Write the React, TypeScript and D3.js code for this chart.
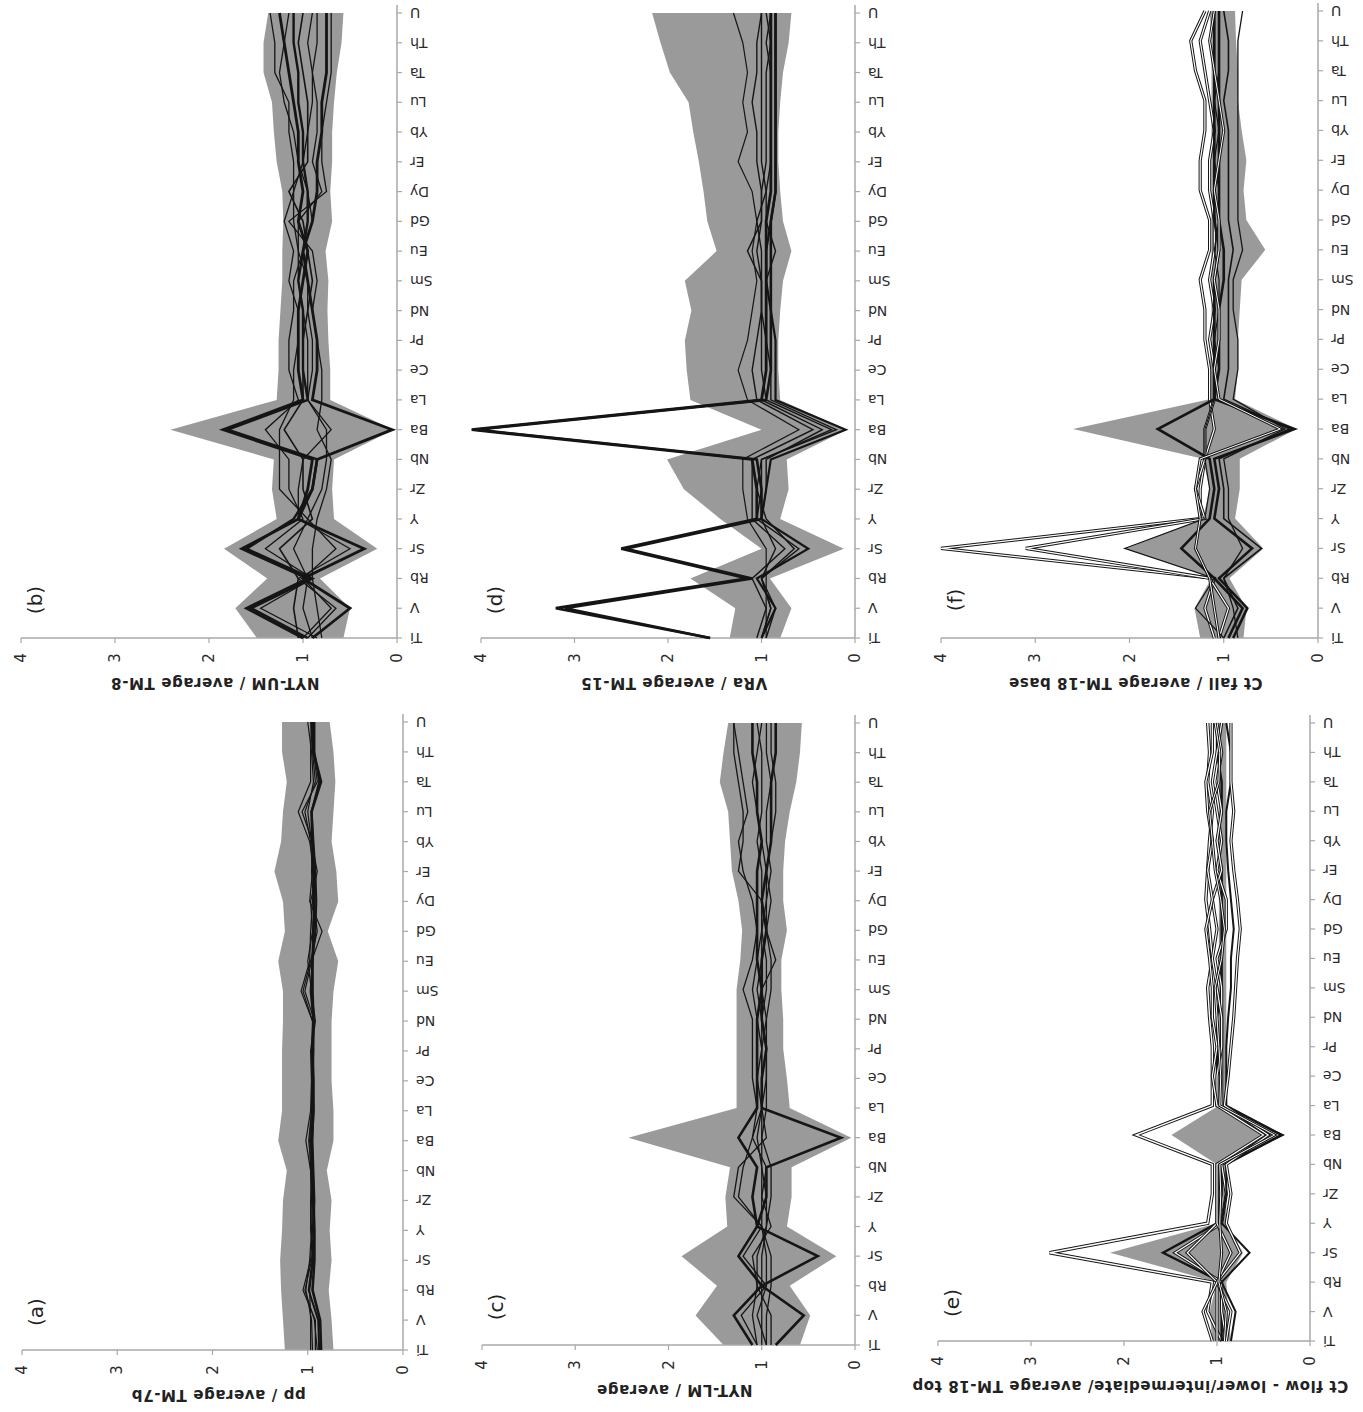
import React from "react";
import * as d3 from "d3";

// element order along the category axis
const ELEMENTS = ["Ti", "V", "Rb", "Sr", "Y", "Zr", "Nb", "Ba", "La", "Ce", "Pr", "Nd", "Sm", "Eu", "Gd", "Dy", "Er", "Yb", "Lu", "Ta", "Th", "U"];
const VALUE_TICKS = [0, 1, 2, 3, 4];

// (a) pp
const A_TITLE = "pp / average TM-7b";
const A_MAX = [1.24, 1.26, 1.28, 1.29, 1.27, 1.26, 1.22, 1.31, 1.27, 1.27, 1.27, 1.26, 1.26, 1.31, 1.24, 1.26, 1.35, 1.28, 1.26, 1.22, 1.27, 1.27];
const A_MIN = [0.73, 0.75, 0.78, 0.75, 0.77, 0.75, 0.8, 0.73, 0.73, 0.75, 0.75, 0.75, 0.73, 0.68, 0.79, 0.68, 0.7, 0.75, 0.73, 0.71, 0.73, 0.77];
const A_LINES = [
  [0.86, 0.87, 0.95, 0.93, 0.93, 0.94, 0.95, 0.96, 0.94, 0.94, 0.95, 0.94, 0.95, 0.95, 0.94, 0.93, 0.94, 0.95, 0.96, 0.86, 0.94, 0.95],
  [0.92, 0.92, 1.05, 0.97, 0.95, 0.96, 0.97, 1.02, 0.97, 0.96, 0.96, 0.95, 1.07, 0.98, 0.97, 0.95, 0.93, 0.98, 1.1, 0.97, 0.97, 0.96],
  [0.95, 0.96, 1.02, 0.98, 0.96, 0.95, 0.97, 0.98, 0.96, 0.96, 0.97, 0.93, 1.03, 0.96, 0.85, 0.98, 0.95, 0.97, 1.03, 0.92, 0.95, 0.97],
  [0.88, 0.89, 0.99, 0.95, 0.94, 0.93, 0.94, 0.95, 0.94, 0.95, 0.94, 0.94, 0.97, 0.95, 0.92, 0.91, 0.92, 0.94, 0.96, 0.88, 0.93, 0.93],
  [0.97, 0.97, 0.98, 0.94, 0.97, 0.97, 0.96, 0.99, 0.96, 0.96, 0.96, 0.92, 0.96, 1.0, 0.95, 0.97, 0.9, 0.96, 1.0, 0.94, 0.96, 1.0],
  [0.9, 0.93, 1.03, 0.96, 0.93, 0.94, 0.95, 0.97, 0.95, 0.95, 0.94, 0.95, 1.05, 0.97, 0.9, 0.94, 0.96, 0.95, 1.06, 0.9, 0.94, 0.94],
];

// (b) NYT-UM
const B_TITLE = "NYT-UM / average TM-8";
const B_MAX = [1.49, 1.72, 1.38, 1.84, 1.28, 1.33, 1.31, 2.41, 1.28, 1.26, 1.26, 1.24, 1.22, 1.22, 1.21, 1.22, 1.28, 1.31, 1.33, 1.42, 1.42, 1.37];
const B_MIN = [0.57, 0.5, 0.82, 0.21, 0.67, 0.69, 0.67, 0.04, 0.71, 0.71, 0.73, 0.74, 0.73, 0.76, 0.69, 0.71, 0.69, 0.69, 0.67, 0.64, 0.59, 0.57];
const B_LINES = [
  [1.0, 1.6, 0.95, 1.65, 1.05, 0.95, 0.9, 1.85, 1.0, 1.05, 1.05, 1.05, 1.0, 0.95, 1.05, 1.0, 1.05, 1.05, 1.1, 1.15, 1.2, 1.25],
  [0.9, 0.5, 1.0, 0.35, 1.05, 0.9, 0.85, 0.05, 0.9, 0.85, 0.85, 0.9, 0.95, 1.0, 0.9, 0.85, 0.85, 0.8, 0.8, 0.75, 0.75, 0.75],
  [0.95, 1.55, 0.9, 1.6, 1.1, 0.9, 0.85, 1.8, 0.95, 1.0, 1.0, 1.0, 1.05, 1.0, 0.95, 0.95, 1.0, 1.0, 1.05, 1.05, 1.1, 1.1],
  [0.95, 0.65, 1.05, 0.5, 1.05, 1.05, 1.0, 0.7, 0.95, 0.95, 0.95, 1.0, 1.05, 1.05, 1.1, 1.1, 1.0, 0.95, 0.9, 0.9, 0.85, 0.85],
  [0.85, 1.45, 0.9, 1.4, 1.0, 1.15, 1.15, 1.4, 1.05, 1.15, 1.15, 1.1, 1.1, 1.0, 0.9, 0.95, 1.05, 1.1, 1.2, 1.25, 1.2, 1.15],
  [1.0, 0.7, 1.0, 0.65, 0.95, 0.8, 0.75, 0.75, 0.95, 0.9, 0.9, 0.95, 0.95, 1.05, 1.05, 0.8, 0.9, 0.85, 0.85, 0.9, 0.95, 0.9],
  [0.9, 1.0, 0.95, 1.1, 0.95, 1.25, 1.25, 1.25, 1.1, 1.1, 1.05, 1.05, 1.15, 1.1, 1.2, 1.1, 1.1, 1.15, 1.15, 1.3, 1.3, 1.35],
  [0.8, 0.85, 0.9, 0.9, 0.85, 0.75, 0.7, 0.85, 0.8, 0.8, 0.85, 0.9, 0.85, 0.9, 1.15, 0.75, 0.8, 0.8, 0.75, 0.7, 0.7, 0.7],
  [1.05, 1.1, 1.05, 1.25, 0.9, 1.0, 1.0, 1.2, 1.0, 1.0, 1.0, 0.95, 0.9, 0.95, 1.0, 1.15, 0.95, 0.95, 0.95, 1.0, 1.05, 1.0],
];

// (c) NYT-LM
const C_TITLE = "NYT-LM / average";
const C_MAX = [1.41, 1.71, 1.48, 1.86, 1.37, 1.39, 1.34, 2.43, 1.27, 1.27, 1.27, 1.27, 1.27, 1.23, 1.21, 1.25, 1.32, 1.34, 1.36, 1.45, 1.41, 1.36];
const C_MIN = [0.59, 0.48, 0.7, 0.2, 0.73, 0.68, 0.68, 0.04, 0.7, 0.73, 0.77, 0.77, 0.79, 0.79, 0.73, 0.77, 0.77, 0.75, 0.7, 0.63, 0.59, 0.57];
const C_LINES = [
  [0.85, 0.55, 1.0, 0.4, 1.05, 0.95, 0.95, 0.15, 1.0, 1.0, 0.95, 1.0, 1.0, 1.0, 0.95, 1.0, 0.95, 0.9, 0.9, 0.9, 0.85, 0.85],
  [1.1, 1.3, 1.0, 1.25, 1.05, 1.1, 1.05, 1.25, 1.05, 1.05, 1.05, 1.05, 1.0, 1.05, 1.05, 1.05, 1.05, 1.0, 1.05, 1.05, 1.1, 1.1],
  [1.05, 1.22, 0.95, 1.2, 1.0, 1.25, 1.2, 1.1, 1.05, 1.1, 1.1, 1.1, 1.2, 1.1, 1.05, 1.1, 1.2, 1.25, 1.15, 1.2, 1.25, 1.3],
  [0.95, 0.95, 0.9, 0.9, 1.0, 1.3, 1.25, 0.95, 1.0, 1.0, 1.0, 0.95, 1.0, 0.85, 0.95, 0.95, 0.95, 1.0, 1.05, 1.1, 1.05, 1.0],
  [0.9, 0.9, 1.05, 1.05, 0.95, 0.9, 0.9, 1.0, 0.95, 0.95, 0.95, 1.0, 0.95, 0.95, 1.0, 0.95, 0.9, 0.95, 0.95, 0.9, 0.95, 0.95],
  [1.0, 1.0, 1.0, 1.0, 0.95, 0.95, 1.0, 1.05, 1.0, 1.0, 1.0, 1.0, 1.05, 1.0, 1.0, 1.0, 1.0, 1.05, 1.0, 1.0, 1.0, 1.05],
  [0.95, 1.05, 0.95, 0.95, 1.0, 1.0, 0.95, 1.1, 1.0, 1.05, 1.0, 1.05, 1.1, 1.05, 1.0, 1.0, 1.25, 1.2, 1.2, 1.25, 1.3, 1.3],
  [1.05, 1.1, 1.05, 1.1, 0.9, 1.0, 1.0, 1.0, 1.0, 0.95, 0.95, 0.95, 0.9, 0.9, 0.95, 0.9, 0.95, 0.9, 0.85, 0.85, 0.9, 0.9],
];

// (d) VRa
const D_TITLE = "VRa / average TM-15";
const D_MAX = [1.34, 1.28, 1.76, 1.0, 1.44, 1.83, 2.01, 1.0, 1.76, 1.8, 1.82, 1.75, 1.82, 1.48, 1.58, 1.62, 1.67, 1.73, 1.78, 1.98, 2.08, 2.17];
const D_MIN = [0.8, 0.68, 0.91, 0.12, 0.8, 0.71, 0.73, 0.09, 0.8, 0.82, 0.82, 0.8, 0.77, 0.68, 0.77, 0.8, 0.82, 0.82, 0.8, 0.77, 0.71, 0.68];
const D_LINES = [
  [1.55, 3.2, 1.15, 2.5, 1.05, 1.05, 1.1, 4.1, 1.0, 0.95, 0.95, 0.95, 0.95, 0.95, 0.95, 0.9, 0.9, 0.9, 0.9, 0.9, 0.9, 0.9],
  [1.55, 3.1, 1.1, 2.45, 1.0, 1.0, 1.05, 4.05, 0.95, 0.9, 0.9, 0.9, 0.9, 0.9, 0.9, 0.85, 0.85, 0.85, 0.85, 0.85, 0.85, 0.85],
  [1.0, 0.85, 1.05, 0.5, 1.0, 0.95, 0.9, 0.1, 0.85, 0.85, 0.85, 0.9, 0.95, 0.95, 0.9, 0.85, 0.85, 0.85, 0.85, 0.85, 0.85, 0.85],
  [1.0, 0.9, 1.0, 0.6, 1.05, 1.0, 1.0, 0.25, 0.95, 1.0, 1.0, 1.0, 1.0, 1.05, 1.0, 1.0, 0.95, 0.95, 0.95, 0.95, 0.9, 0.95],
  [1.05, 0.95, 1.1, 0.75, 1.1, 1.1, 1.1, 0.45, 1.05, 1.1, 1.05, 1.0, 1.0, 1.15, 1.0, 1.0, 1.05, 1.05, 1.1, 1.05, 1.05, 1.0],
  [0.95, 0.95, 0.95, 0.95, 1.15, 1.2, 1.2, 0.6, 1.15, 1.25, 1.15, 1.1, 1.05, 1.1, 1.05, 1.1, 1.25, 1.15, 1.2, 1.15, 1.2, 1.3],
  [1.0, 0.9, 1.0, 0.85, 1.0, 0.95, 0.95, 0.35, 1.0, 0.95, 0.95, 0.95, 0.95, 0.85, 0.95, 0.95, 1.0, 1.0, 1.0, 1.0, 1.0, 1.0],
  [0.95, 0.85, 1.0, 0.65, 0.95, 1.05, 1.0, 0.2, 0.9, 0.9, 0.95, 1.0, 1.0, 1.0, 1.05, 0.95, 0.9, 0.9, 0.9, 0.9, 0.95, 0.9],
];

// (e) Ct flow
const E_TITLE = "Ct flow - lower/intermediate/ average TM-18 top";
const E_MAX = [1.05, 1.08, 1.0, 2.15, 1.0, 1.0, 1.0, 1.49, 0.98, 0.98, 0.98, 0.98, 0.98, 0.98, 0.98, 0.98, 0.98, 0.98, 0.98, 0.98, 0.98, 0.98];
const E_MIN = [0.85, 0.88, 0.9, 0.72, 0.9, 0.9, 0.9, 0.32, 0.9, 0.9, 0.9, 0.9, 0.9, 0.9, 0.9, 0.9, 0.9, 0.9, 0.9, 0.9, 0.9, 0.9];
const E_LINES = [
  [0.95, 1.1, 1.05, 2.8, 1.1, 1.05, 1.05, 1.87, 1.05, 1.05, 1.05, 1.08, 1.1, 1.05, 1.08, 1.12, 1.1, 1.08, 1.05, 1.1, 1.08, 1.1],
  [0.95, 0.95, 0.95, 1.58, 1.0, 0.95, 0.95, 0.3, 1.0, 1.0, 1.0, 1.0, 0.95, 0.95, 0.95, 0.95, 0.95, 1.0, 0.95, 0.95, 1.0, 1.0],
  [0.9, 0.95, 0.95, 1.45, 0.95, 0.9, 0.95, 0.35, 0.95, 0.95, 0.95, 0.95, 0.95, 1.0, 0.9, 0.9, 1.0, 0.95, 1.0, 1.05, 1.0, 0.95],
  [1.0, 1.0, 1.0, 1.32, 1.0, 1.0, 1.0, 0.4, 1.0, 1.0, 0.95, 0.95, 1.0, 1.05, 1.0, 1.05, 0.95, 1.0, 0.95, 1.0, 0.95, 1.0],
  [0.85, 0.8, 0.95, 0.65, 0.95, 0.9, 0.9, 0.3, 0.9, 0.9, 0.9, 0.88, 0.85, 0.85, 0.82, 0.85, 0.88, 0.9, 0.9, 0.85, 0.85, 0.9],
  [0.9, 0.85, 1.0, 0.75, 0.9, 0.85, 0.9, 0.45, 0.92, 0.88, 0.85, 0.82, 0.8, 0.78, 0.75, 0.78, 0.82, 0.85, 0.82, 0.85, 0.85, 0.85],
  [1.05, 1.15, 1.0, 0.85, 1.0, 1.0, 1.0, 0.5, 1.0, 1.05, 1.0, 1.05, 1.05, 1.08, 1.12, 1.05, 1.1, 1.05, 1.1, 1.12, 1.05, 1.05],
  [0.92, 0.9, 0.98, 0.95, 0.97, 0.96, 0.97, 0.38, 0.97, 0.96, 0.98, 1.0, 1.02, 0.95, 0.92, 0.96, 1.02, 1.05, 1.08, 0.98, 0.97, 1.02],
];

// (f) Ct fall
const F_TITLE = "Ct fall / average TM-18 base";
const F_MAX = [1.25, 1.31, 1.13, 2.03, 1.22, 1.15, 1.22, 2.6, 1.15, 1.15, 1.13, 1.13, 1.13, 1.13, 1.13, 1.13, 1.13, 1.13, 1.13, 1.13, 1.13, 1.15];
const F_MIN = [0.79, 0.76, 0.94, 0.58, 0.88, 0.83, 0.83, 0.23, 0.88, 0.85, 0.85, 0.83, 0.81, 0.56, 0.76, 0.79, 0.76, 0.81, 0.85, 0.85, 0.87, 0.88];
const F_LINES = [
  [1.1, 1.2, 1.1, 4.0, 1.25, 1.25, 1.2, 1.1, 1.15, 1.15, 1.2, 1.2, 1.25, 1.15, 1.15, 1.25, 1.25, 1.2, 1.2, 1.3, 1.35, 1.2],
  [1.05, 0.95, 1.15, 3.1, 1.2, 1.3, 1.2, 1.2, 1.1, 1.1, 1.15, 1.1, 1.15, 1.1, 1.1, 1.15, 1.15, 1.1, 1.15, 1.2, 1.25, 1.15],
  [1.0, 1.3, 1.1, 2.05, 1.2, 1.15, 1.2, 1.2, 1.1, 1.05, 1.1, 1.05, 1.05, 1.1, 1.05, 1.05, 1.1, 1.05, 1.1, 1.05, 1.05, 1.05],
  [0.95, 0.8, 1.1, 1.45, 1.15, 1.1, 1.15, 1.7, 1.1, 1.1, 1.1, 1.1, 1.1, 1.05, 1.1, 1.1, 1.1, 1.1, 1.1, 1.1, 1.1, 1.1],
  [0.9, 0.75, 1.05, 0.7, 1.1, 1.05, 1.1, 0.25, 1.1, 1.05, 1.05, 1.05, 1.0, 1.0, 1.05, 1.05, 1.05, 1.05, 1.05, 1.05, 1.05, 1.05],
  [1.0, 0.85, 1.0, 0.6, 1.0, 1.0, 1.05, 0.3, 1.0, 0.95, 0.95, 0.95, 0.95, 0.9, 0.95, 0.95, 0.95, 0.95, 1.0, 0.95, 0.95, 1.0],
  [0.85, 0.9, 1.0, 0.8, 0.95, 0.95, 1.0, 0.35, 0.9, 0.85, 0.85, 0.9, 0.9, 0.8, 0.85, 0.85, 0.85, 0.85, 0.85, 0.85, 0.85, 0.8],
  [1.05, 1.1, 1.15, 1.3, 1.25, 1.3, 1.25, 0.4, 1.05, 1.1, 1.05, 1.05, 1.1, 1.05, 1.05, 1.1, 1.05, 1.0, 1.05, 1.1, 1.15, 1.1],
];

// line weights per panel; a "hollow" line is a dark edge with a white core
const WIDTHS = {
  a: [2.6, 1.2, 1.2, 2.0, 1.2, 1.2],
  b: [2.8, 2.8, 2.4, 1.3, 1.3, 1.3, 1.3, 1.3, 1.6],
  c: [2.6, 2.6, 1.3, 1.3, 1.3, 1.3, 1.3, 1.3],
  d: [2.8, 2.6, 2.2, 1.4, 1.4, 1.2, 1.4, 1.4],
  e: [3.4, 2.4, 3.2, 3.2, 2.0, 3.2, 3.2, 3.0],
  f: [3.2, 3.2, 1.2, 2.6, 2.6, 1.6, 1.3, 3.0],
};
const HOLLOW = {
  a: [],
  b: [],
  c: [],
  d: [],
  e: [0, 2, 3, 5, 6, 7],
  f: [0, 1, 7],
};

// panel frames in the unrotated page (1412 x 1363): ti/u = category ends, v0/v4 = value 0 and 4
const LAYOUT = {
  a: { ti: 62, u: 690, v0: 403, v4: 22 },
  b: { ti: 774, u: 1399, v0: 397, v4: 21 },
  c: { ti: 67, u: 689, v0: 855, v4: 482 },
  d: { ti: 774, u: 1399, v0: 855, v4: 481 },
  e: { ti: 71, u: 689, v0: 1310, v4: 938 },
  f: { ti: 774, u: 1401, v0: 1318, v4: 941 },
};

const PANELS = [
  { key: "a", title: A_TITLE, max: A_MAX, min: A_MIN, lines: A_LINES },
  { key: "b", title: B_TITLE, max: B_MAX, min: B_MIN, lines: B_LINES },
  { key: "c", title: C_TITLE, max: C_MAX, min: C_MIN, lines: C_LINES },
  { key: "d", title: D_TITLE, max: D_MAX, min: D_MIN, lines: D_LINES },
  { key: "e", title: E_TITLE, max: E_MAX, min: E_MIN, lines: E_LINES },
  { key: "f", title: F_TITLE, max: F_MAX, min: F_MIN, lines: F_LINES },
];

const AXIS = "#a8a8a8";
const BAND = "#9a9a9a";
const INK = "#151515";

function Panel({ p }: { p: any }) {
  const box = LAYOUT[p.key];
  const widths = WIDTHS[p.key];
  const hollow: number[] = HOLLOW[p.key];
  const x = d3.scalePoint<string>().domain(ELEMENTS).range([box.ti, box.u]);
  const y = d3.scaleLinear().domain([0, 4]).range([box.v0, box.v4]);

  const band = d3.area<number>()
    .x((_, i) => x(ELEMENTS[i])!)
    .y0((_, i) => y(p.min[i]))
    .y1((d) => y(d));
  const line = d3.line<number>()
    .x((_, i) => x(ELEMENTS[i])!)
    .y((d) => y(d));

  const midV = (y(0) + y(4)) / 2;

  return (
    <g>
      <path d={band(p.max)!} fill={BAND} />

      {/* category axis */}
      <line x1={box.ti} x2={box.u + 8} y1={y(0)} y2={y(0)} stroke={AXIS} strokeWidth={1.5} />
      {ELEMENTS.map((el) => (
        <g key={el}>
          <line x1={x(el)} x2={x(el)} y1={y(0)} y2={y(0) + 5} stroke={AXIS} strokeWidth={1.2} />
          <text
            transform={`translate(${x(el)},${y(0) + 13}) rotate(-90)`}
            textAnchor="end"
            dominantBaseline="central"
            fontSize={14}
            fill="#2a2a2a"
          >
            {el}
          </text>
        </g>
      ))}

      {/* value axis */}
      <line x1={box.ti} x2={box.ti} y1={y(0)} y2={y(4)} stroke={AXIS} strokeWidth={1.5} />
      {VALUE_TICKS.map((t) => (
        <g key={t}>
          <line x1={box.ti - 5} x2={box.ti} y1={y(t)} y2={y(t)} stroke={AXIS} strokeWidth={1.2} />
          <text x={box.ti - 20} y={y(t)} textAnchor="middle" dominantBaseline="central" fontSize={15} fill="#2a2a2a">
            {t}
          </text>
        </g>
      ))}

      {p.lines.map((vals: number[], i: number) => {
        const d = line(vals)!;
        const isHollow = hollow.includes(i);
        return (
          <g key={i}>
            <path d={d} fill="none" stroke={INK} strokeWidth={widths[i]} strokeLinejoin="miter" strokeMiterlimit={4} />
            {isHollow && (
              <path d={d} fill="none" stroke="#fff" strokeWidth={widths[i] - 2} strokeLinejoin="miter" strokeMiterlimit={4} />
            )}
          </g>
        );
      })}

      <text
        transform={`translate(${box.ti - 45},${midV + 6}) rotate(-90)`}
        textAnchor="middle"
        dominantBaseline="central"
        fontSize={15}
        fontWeight="bold"
        letterSpacing={0.6}
        fill="#222"
      >
        {p.title}
      </text>
      <text x={box.ti + 38} y={box.v4 + 14} textAnchor="middle" dominantBaseline="central" fontSize={20} fill="#222">
        ({p.key})
      </text>
    </g>
  );
}

export default function App() {
  return (
    <svg
      width={1363}
      height={1412}
      style={{ position: "absolute", left: 0, top: 0, background: "#fff" }}
      fontFamily="'DejaVu Sans', Verdana, sans-serif"
    >
      <rect width={1363} height={1412} fill="#fff" />
      {/* the page is printed turned a quarter turn */}
      <g transform="translate(0,1412) rotate(-90)">
        {PANELS.map((p) => (
          <Panel key={p.key} p={p} />
        ))}
      </g>
    </svg>
  );
}
